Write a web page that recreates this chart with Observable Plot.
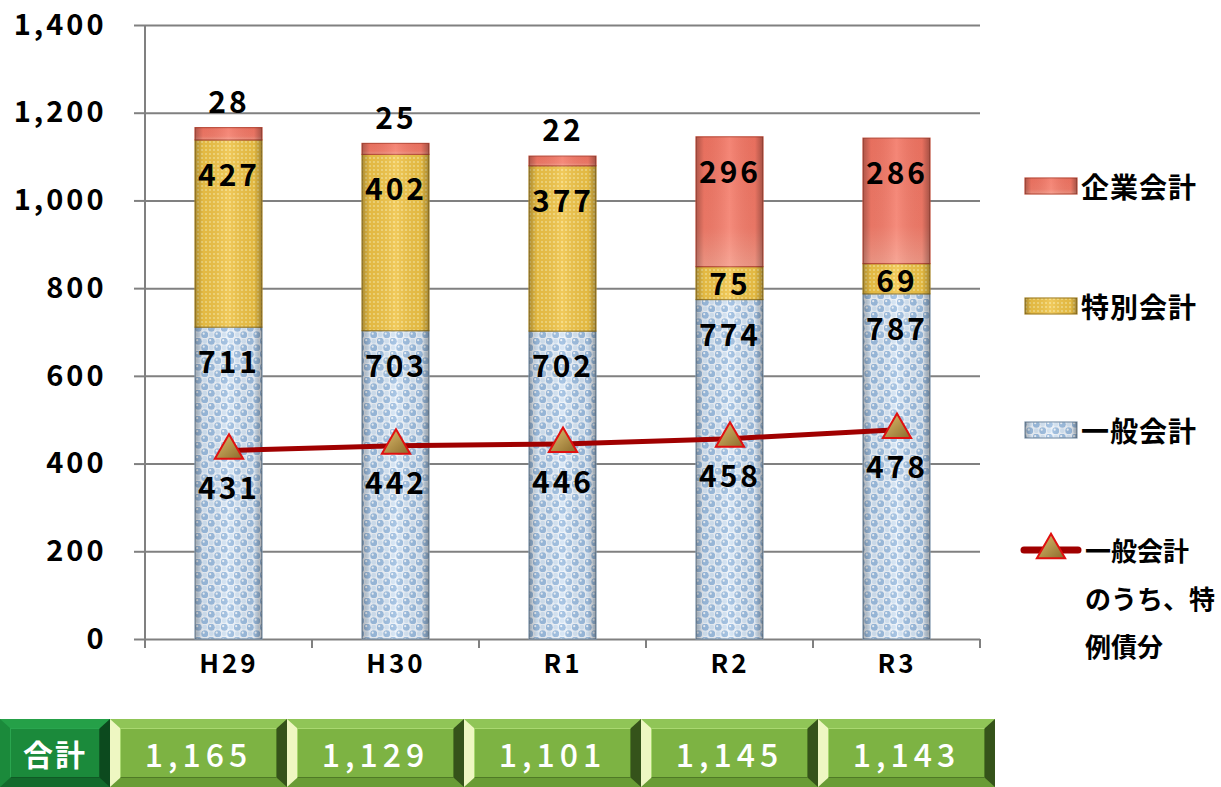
<!DOCTYPE html>
<html><head><meta charset="utf-8">
<script src="https://cdn.jsdelivr.net/npm/d3@7"></script>
<script src="https://cdn.jsdelivr.net/npm/@observablehq/plot@0.6"></script>
<style>
body{margin:0;background:#fff;font-family:"Noto Sans CJK JP","Noto Sans",sans-serif;}
#wrap{position:relative;width:1221px;height:787px;overflow:hidden;}
#chart{position:absolute;left:0;top:0;}
#chart svg text{letter-spacing:3px;}
#legend{position:absolute;left:1020px;top:0;width:201px;height:700px;}
.li{position:absolute;left:0;display:flex;align-items:center;font-size:28px;font-weight:bold;color:#000;letter-spacing:1px;white-space:nowrap;}
.li svg{margin-right:3px;flex:none;}
#table{position:absolute;left:0;top:719px;height:68px;display:flex;}
.cell{box-sizing:border-box;height:68px;border-style:solid;border-width:9px 10px 9px 10px;display:flex;align-items:center;justify-content:center;color:#fff;}
.cell .in{box-sizing:border-box;width:100%;height:100%;display:flex;align-items:center;justify-content:center;border:1px solid;}
.head{width:110px;background:#1b8a3b;border-color:#25a048 #0c4a1e #136a2c #1b8a3b;font-weight:bold;font-size:30px;letter-spacing:2px;}
.head .in{border-color:#2aa54f #0f5a25 #0f5a25 #2aa54f;}
.val{width:177px;background:#7db343;border-color:#90c557 #35531a #699c35 #eef7c2;font-size:32px;letter-spacing:5px;font-weight:500;}
.val .in{border-color:#a9d870 #4f7a26 #4f7a26 #a9d870;}
</style></head><body>
<svg width="0" height="0" style="position:absolute">
<defs>
<pattern id="pBlue" width="13" height="13" patternUnits="userSpaceOnUse">
<rect width="13" height="13" fill="#eef4fb"/>
<circle cx="3.25" cy="3.25" r="3.5" fill="#9cbde0"/>
<circle cx="9.75" cy="9.75" r="3.5" fill="#9cbde0"/>
<circle cx="9.75" cy="3.25" r="2.4" fill="#d4e4f4"/>
<circle cx="3.25" cy="9.75" r="2.4" fill="#d4e4f4"/>
<circle cx="2.2" cy="2.2" r="1.1" fill="#ffffff" opacity="0.85"/>
<circle cx="8.7" cy="8.7" r="1.1" fill="#ffffff" opacity="0.85"/>
</pattern>
<pattern id="pYellow" width="4" height="4" patternUnits="userSpaceOnUse">
<rect width="4" height="4" fill="#efc346"/>
<circle cx="2" cy="2" r="1.1" fill="#f8df85"/>
</pattern>
<linearGradient id="pRed" x1="0" y1="0" x2="0" y2="1">
<stop offset="0" stop-color="#f37563"/>
<stop offset="0.7" stop-color="#f47c6a"/>
<stop offset="1" stop-color="#f59a88"/>
</linearGradient>
<linearGradient id="gBevel" x1="0" y1="0" x2="1" y2="0">
<stop offset="0" stop-color="#000" stop-opacity="0.28"/>
<stop offset="0.12" stop-color="#000" stop-opacity="0.05"/>
<stop offset="0.5" stop-color="#fff" stop-opacity="0.12"/>
<stop offset="0.88" stop-color="#000" stop-opacity="0.05"/>
<stop offset="1" stop-color="#000" stop-opacity="0.32"/>
</linearGradient>
<linearGradient id="gTri" x1="0" y1="0" x2="1" y2="1">
<stop offset="0" stop-color="#e0c070"/>
<stop offset="1" stop-color="#8a6a2a"/>
</linearGradient>
</defs>
</svg>
<div id="wrap"><div id="chart"></div><div id="legend"></div><div id="table"></div></div>
<script>
const categories = ["H29", "H30", "R1", "R2", "R3"];
const general = [711, 703, 702, 774, 787];
const special = [427, 402, 377, 75, 69];
const enterprise = [28, 25, 22, 296, 286];
const specialBonds = [431, 442, 446, 458, 478];
const totals = [1165, 1129, 1101, 1145, 1143];
const seriesNames = ["一般会計", "特別会計", "企業会計"];
const lineLegendLines = ["一般会計", "のうち、特", "例債分"];
const totalLabel = "合計";
const yTicks = [0, 200, 400, 600, 800, 1000, 1200, 1400];

const seriesFill = {"一般会計": "url(#pBlue)", "特別会計": "url(#pYellow)", "企業会計": "url(#pRed)"};
const seriesStroke = {"一般会計": "#7f96ad", "特別会計": "#a8862a", "企業会計": "#c0503f"};

const seriesValues = [general, special, enterprise];
const rows = [];
categories.forEach((c, i) => {
  let base = 0;
  seriesValues.forEach((arr, s) => {
    rows.push({cat: c, series: seriesNames[s], value: arr[i], y1: base, y2: base + arr[i]});
    base += arr[i];
  });
});
const lineRows = categories.map((c, i) => ({cat: c, v: specialBonds[i]}));

const font = '"Noto Sans CJK JP","Noto Sans",sans-serif';
const chart = Plot.plot({
  width: 1010, height: 700,
  marginLeft: 145, marginRight: 30, marginTop: 25, marginBottom: 61,
  x: {domain: categories, paddingInner: 0.6, paddingOuter: 0.3, label: null},
  y: {domain: [0, 1400], label: null},
  style: {fontFamily: font, overflow: "visible", background: "transparent"},
  marks: [
    Plot.gridY(yTicks, {stroke: "#808080", strokeOpacity: 1, strokeWidth: 2}),
    Plot.axisY(yTicks, {tickSize: 11, tickPadding: 28, stroke: "#808080", strokeWidth: 2,
      tickFormat: d3.format(","), fontSize: 29, fontWeight: "bold", fill: "#000"}),
    Plot.axisX({tickSize: 0, tickPadding: 15, fontSize: 26, fontWeight: "bold", fill: "#000"}),
    ...seriesNames.map(s => Plot.barY(rows.filter(d => d.series === s),
      {x: "cat", y1: "y1", y2: "y2", fill: seriesFill[s], stroke: seriesStroke[s], strokeWidth: 1.2})),
    Plot.barY(rows, {x: "cat", y1: "y1", y2: "y2", fill: "url(#gBevel)"}),
    Plot.text(rows.filter(d => d.value >= 100), {x: "cat", y: "y2", text: d => d.value, dy: 36,
      fontSize: 30, fontWeight: "bold", fill: "#000"}),
    Plot.text(rows.filter(d => d.value >= 50 && d.value < 100), {x: "cat", y: "y2", text: d => d.value, dy: 18,
      fontSize: 30, fontWeight: "bold", fill: "#000"}),
    Plot.text(rows.filter(d => d.value < 50), {x: "cat", y: "y2", text: d => d.value, dy: -25,
      fontSize: 30, fontWeight: "bold", fill: "#000"}),
    Plot.line(lineRows, {x: "cat", y: "v", stroke: "#a00000", strokeWidth: 5}),
    Plot.dot(lineRows, {x: "cat", y: "v", symbol: "triangle", r: 10.5, fill: "url(#gTri)", stroke: "#e01010", strokeWidth: 2}),
    Plot.text(lineRows, {x: "cat", y: "v", text: d => d.v, dy: 39, fontSize: 30, fontWeight: "bold", fill: "#000"})
  ]
});
document.getElementById("chart").appendChild(chart);

// axis line and category boundary ticks from the scales
const xs = chart.scale("x"), ys = chart.scale("y");
const svg = d3.select(chart);
const x0 = xs.range[0];
const yTop = ys.apply(1400), yBase = ys.apply(0);
const g = svg.append("g").attr("stroke", "#808080").attr("stroke-width", 2);
g.append("line").attr("x1", x0).attr("x2", x0).attr("y1", yTop).attr("y2", yBase + 9);
const gap = (xs.step - xs.bandwidth) / 2;
const bounds = categories.map(c => xs.apply(c) - gap).concat([xs.apply(categories[categories.length - 1]) + xs.bandwidth + gap]);
bounds.forEach(b => g.append("line").attr("x1", b).attr("x2", b).attr("y1", yBase).attr("y2", yBase + 9));
svg.node().insertBefore(g.node(), svg.node().querySelector("g[aria-label='bar']"));

// legend
const legend = document.getElementById("legend");
const legendItems = [
  {name: seriesNames[2], cy: 186},
  {name: seriesNames[1], cy: 306},
  {name: seriesNames[0], cy: 430}
];
legendItems.forEach(it => {
  const d = document.createElement("div");
  d.className = "li";
  d.style.top = (it.cy - 22) + "px";
  d.style.height = "44px";
  d.innerHTML = `<svg width="58" height="18"><rect x="5" y="1" width="52" height="16" fill="${seriesFill[it.name]}" stroke="${seriesStroke[it.name]}" stroke-width="1.2"/><rect x="5" y="1" width="52" height="16" fill="url(#gBevel)"/></svg><span>${it.name}</span>`;
  legend.appendChild(d);
});
{
  const d = document.createElement("div");
  d.className = "li";
  d.style.top = "526px";
  d.style.alignItems = "flex-start";
  d.style.fontSize = "26px";
  d.style.letterSpacing = "0px";
  const tri = d3.symbol(d3.symbolTriangle, Math.PI * 10.5 * 10.5)();
  d.innerHTML = `<svg width="62" height="48"><line x1="4" x2="58" y1="24" y2="24" stroke="#a00000" stroke-width="7" stroke-linecap="round"/><path d="${tri}" transform="translate(31,24)" fill="url(#gTri)" stroke="#e01010" stroke-width="2"/></svg><span style="line-height:48px">${lineLegendLines.join("<br>")}</span>`;
  legend.appendChild(d);
}

// totals table
const table = document.getElementById("table");
const head = document.createElement("div");
head.className = "cell head";
head.innerHTML = `<div class="in">${totalLabel}</div>`;
table.appendChild(head);
totals.forEach(t => {
  const c = document.createElement("div");
  c.className = "cell val";
  c.innerHTML = `<div class="in">${d3.format(",")(t)}</div>`;
  table.appendChild(c);
});
</script>
</body></html>
